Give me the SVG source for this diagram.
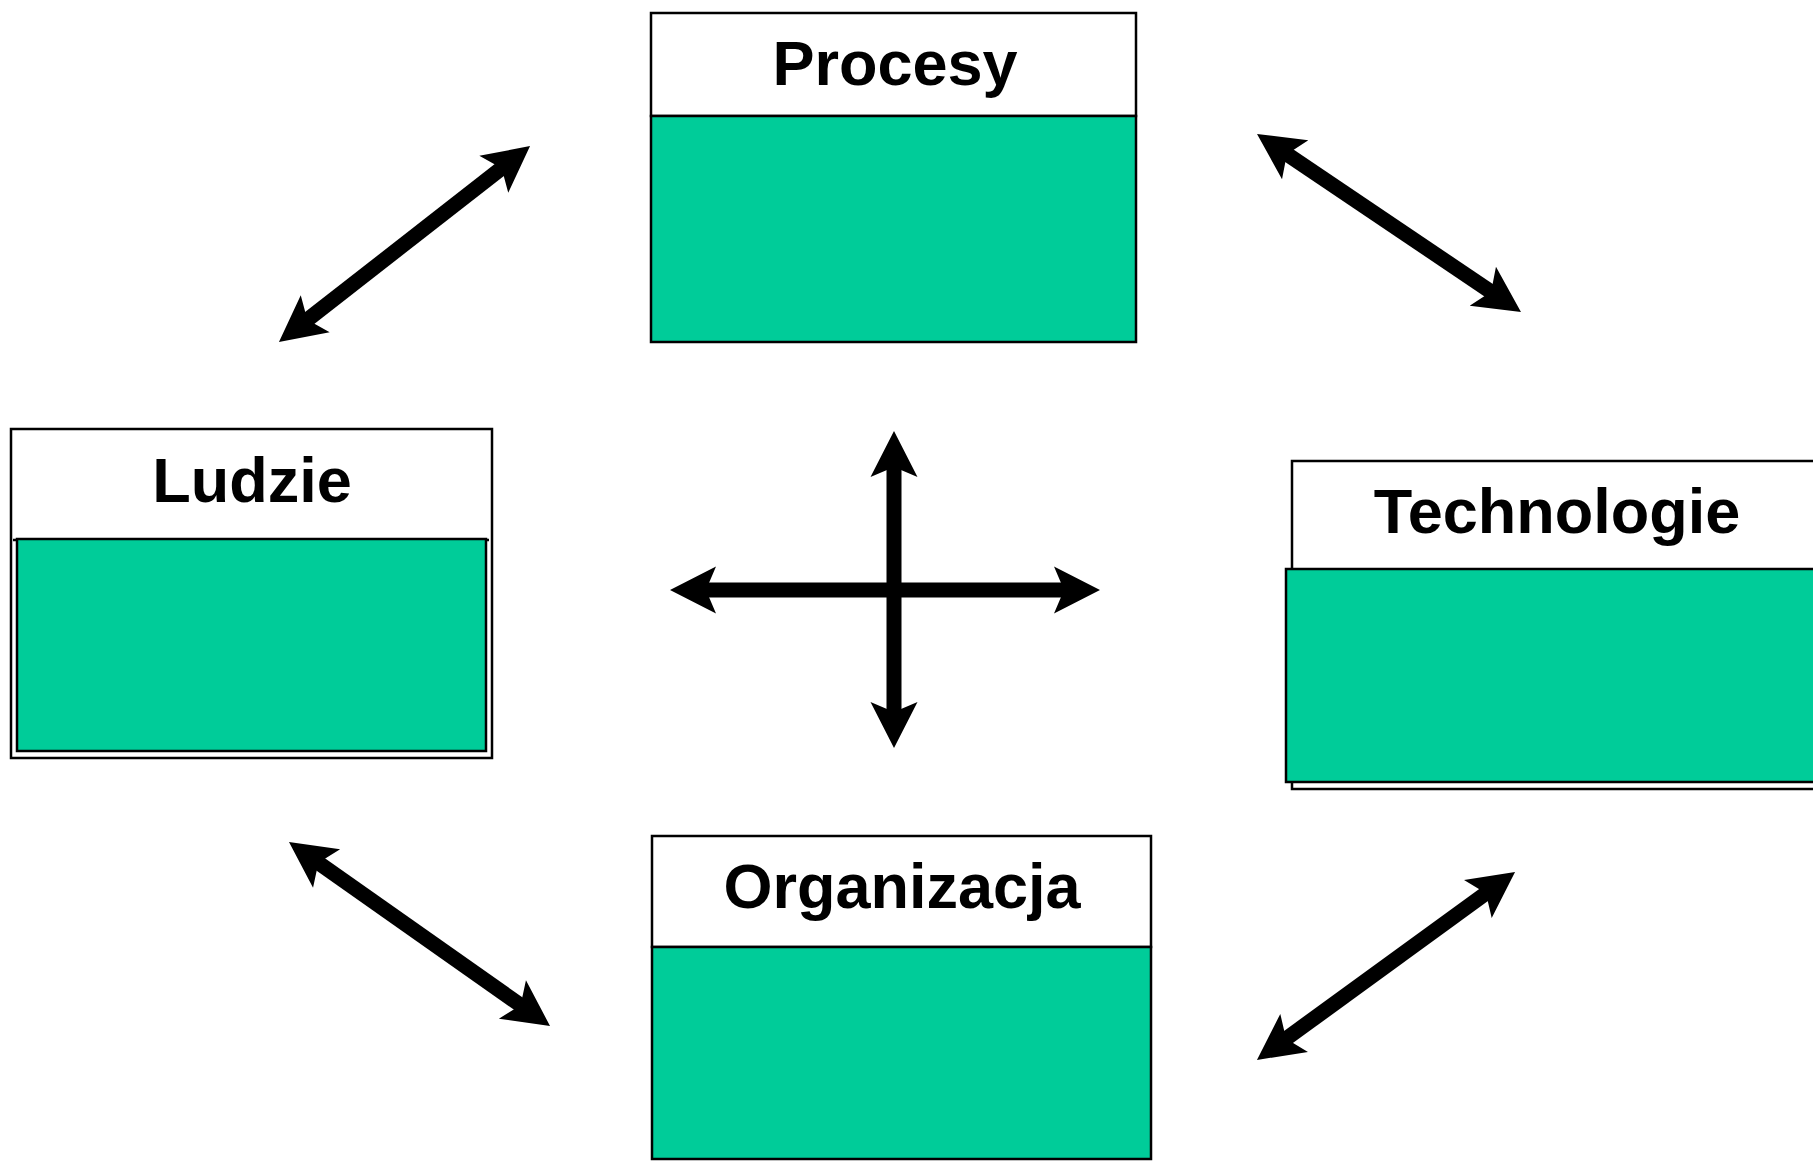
<svg xmlns="http://www.w3.org/2000/svg" width="1813" height="1161" viewBox="0 0 1813 1161">
<style>
.hdr{fill:#ffffff;stroke:#000;stroke-width:2.5}
.body{fill:#00CC99;stroke:#000;stroke-width:2.5}
.lbl{font-family:"Liberation Sans",Arial,sans-serif;font-weight:bold;font-size:63px;fill:#000;text-anchor:middle}
.arr{stroke:#000;stroke-width:15;fill:none;marker-start:url(#ah);marker-end:url(#ah)}
</style>
<defs>
<marker id="ah" markerUnits="userSpaceOnUse" orient="auto-start-reverse" refX="0" refY="0" markerWidth="60" markerHeight="60" overflow="visible">
<path d="M30 0 L-16 -23.5 L-6 0 L-16 23.5 Z" fill="#000"/>
</marker>
</defs>
<rect width="1813" height="1161" fill="#fff"/>
<g id="procesy">
<rect class="hdr" x="651" y="13" width="485" height="103"/>
<rect class="body" x="651" y="116" width="485" height="226"/>
<text class="lbl" x="895" y="85">Procesy</text>
</g>
<g id="ludzie">
<rect class="hdr" x="11" y="429" width="481" height="329"/>
<line x1="13" y1="540" x2="489" y2="540" stroke="#000" stroke-width="2.5"/>
<rect class="body" x="17" y="539" width="469" height="212"/>
<text class="lbl" x="252" y="502">Ludzie</text>
</g>
<g id="technologie">
<rect class="hdr" x="1292" y="461" width="600" height="328"/>
<rect class="body" x="1286" y="569" width="600" height="213"/>
<text class="lbl" x="1557" y="533">Technologie</text>
</g>
<g id="organizacja">
<rect class="hdr" x="652" y="836" width="499" height="111"/>
<rect class="body" x="652" y="947" width="499" height="212"/>
<text class="lbl" x="902" y="908">Organizacja</text>
</g>
<g id="connectors">
<line class="arr" x1="894" y1="461" x2="894" y2="718"/>
<line class="arr" x1="700" y1="590" x2="1070" y2="590"/>
<line class="arr" x1="302.6" y1="323.5" x2="506.4" y2="164.5"/>
<line class="arr" x1="1281.9" y1="150.8" x2="1496.1" y2="295.2"/>
<line class="arr" x1="313.5" y1="859.3" x2="525.5" y2="1008.7"/>
<line class="arr" x1="1281.2" y1="1042.3" x2="1490.8" y2="889.7"/>
</g>
</svg>
